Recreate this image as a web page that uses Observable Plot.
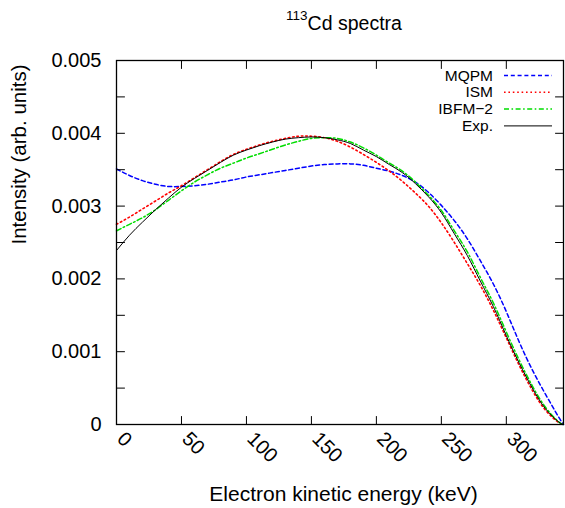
<!DOCTYPE html>
<html><head><meta charset="utf-8">
<script src="https://cdn.jsdelivr.net/npm/d3@7"></script>
<script src="https://cdn.jsdelivr.net/npm/@observablehq/plot@0.6"></script>
<style>body{margin:0;background:#fff}</style>
</head><body><div id="chart"></div>
<script>
const energy = [0,10,20,30,40,50,60,70,80,90,100,110,120,130,140,150,160,170,180,190,200,210,220,230,240,250,260,270,280,290,300,310,320,330,340,344];
const mqpm = [.00351,.00342,.00335,.00330,.00327,.00327,.00328,.00330,.00333,.00336,.00340,.00343,.00346,.00349,.00352,.00355,.00357,.00358,.00358,.00356,.00352,.00348,.00342,.00333,.00319,.00301,.00280,.00255,.00225,.00193,.00155,.00113,.00075,.00042,.00011,0];
const ism = [.00275,.00285,.00296,.00307,.00318,.00328,.00339,.00350,.00361,.00371,.00378,.00384,.00389,.00393,.00396,.00396,.00394,.00389,.00381,.00371,.00360,.00348,.00334,.00318,.00300,.00277,.00250,.00221,.00191,.00157,.00119,.00081,.00047,.00020,.00003,0];
const ibfm = [.00266,.00275,.00284,.00295,.00308,.00321,.00333,.00343,.00352,.00359,.00366,.00372,.00378,.00384,.00389,.00393,.00394,.00393,.00388,.00380,.00370,.00359,.00348,.00333,.00315,.00294,.00266,.00237,.00202,.00167,.00127,.00088,.00053,.00024,.00004,0];
const expData = [.00239,.00260,.00278,.00295,.00311,.00326,.00338,.00349,.00360,.00370,.00377,.00383,.00388,.00392,.00394,.00395,.00394,.00391,.00386,.00377,.00368,.00357,.00346,.00331,.00313,.00291,.00262,.00232,.00197,.00162,.00122,.00084,.00050,.00022,.00004,0];

const seriesNames = ["MQPM", "ISM", "IBFM\u22122", "Exp."];
const seriesColors = ["#0000ff", "#ff0000", "#00dd00", "#000000"];
const seriesDash = ["4,2.8", "1.6,2.8", "5,2.5,1.6,2.5", null];
const seriesWidth = [1.5, 1.6, 1.5, 1];
const xTicks = [0, 50, 100, 150, 200, 250, 300];
const yTicks = [0, 0.001, 0.002, 0.003, 0.004, 0.005];
const yAllTicks = [0, 0.0005, 0.001, 0.0015, 0.002, 0.0025, 0.003, 0.0035, 0.004, 0.0045, 0.005];
const xMax = 344;
const yMax = 0.005;
const titleMain = "Cd spectra";
const titleSup = "113";
const xLabel = "Electron kinetic energy (keV)";
const yLabel = "Intensity (arb. units)";

const seriesValues = [mqpm, ism, ibfm, expData];
const font = "'Liberation Sans', Arial, Helvetica, sans-serif";

const tickShape = {draw(ctx, l) { ctx.moveTo(0, 0); ctx.lineTo(0, -l); }};
const tickOpts = {length: 8, anchor: "start", shape: tickShape, stroke: "black", strokeWidth: 1};

const lineMarks = seriesValues.map((vals, i) =>
  Plot.line(energy.map((e, j) => ({e, v: vals[j]})), {
    x: "e", y: "v", curve: "natural",
    stroke: seriesColors[i], strokeWidth: seriesWidth[i],
    strokeDasharray: seriesDash[i] || undefined
  })
);

const chart = Plot.plot({
  width: 565, height: 508,
  marginLeft: 116, marginRight: 2, marginTop: 60, marginBottom: 84,
  style: {fontFamily: font, fontSize: "20px", background: "white", color: "black"},
  x: {domain: [0, xMax]},
  y: {domain: [0, yMax]},
  marks: [
    ...lineMarks,
    Plot.vector(yAllTicks, {x: 0, y: d => d, rotate: 90, ...tickOpts}),
    Plot.vector(yAllTicks, {x: xMax, y: d => d, rotate: -90, ...tickOpts}),
    Plot.vector(xTicks, {x: d => d, y: 0, rotate: 0, ...tickOpts}),
    Plot.vector(xTicks, {x: d => d, y: yMax, rotate: 180, ...tickOpts}),
    Plot.axisY({ticks: yTicks, tickSize: 0, tickPadding: 15, label: null,
      tickFormat: d => d === 0 ? "0" : d.toFixed(3), fontSize: 20}),
    Plot.axisX({ticks: xTicks, tickSize: 0, tickPadding: 8, tickRotate: 45, label: null,
      dx: 4, dy: 3, tickFormat: d => String(d), fontSize: 20}),
    Plot.frame({stroke: "black", strokeWidth: 1.3}),
    Plot.text([xLabel], {frameAnchor: "bottom", dx: 3.5, dy: 76, lineAnchor: "bottom", fontSize: 21, text: d => d}),
    Plot.text([yLabel], {frameAnchor: "left", dx: -91, dy: 2, rotate: -90, lineAnchor: "bottom", fontSize: 20.5, text: d => d})
  ]
});

document.getElementById("chart").appendChild(chart);

const svg = d3.select(chart);
const t = svg.append("text")
  .attr("x", 344).attr("y", 30)
  .attr("text-anchor", "middle")
  .attr("font-family", font).attr("font-size", 19.5).attr("fill", "black");
t.append("tspan").attr("font-size", 13.5).attr("dy", -10).text(titleSup);
t.append("tspan").attr("dy", 10).text(titleMain);

const leg = svg.append("g").attr("font-family", font).attr("font-size", 15.5);
seriesNames.forEach((name, i) => {
  const cy = 75.5 + i * 16.8;
  leg.append("text").attr("x", 493).attr("y", cy + 5).attr("text-anchor", "end").attr("fill", "black").text(name);
  const ln = leg.append("line").attr("x1", 504).attr("x2", 552).attr("y1", cy).attr("y2", cy)
    .attr("stroke", seriesColors[i]).attr("stroke-width", seriesWidth[i]);
  if (seriesDash[i]) ln.attr("stroke-dasharray", seriesDash[i]);
});
</script>
</body></html>
